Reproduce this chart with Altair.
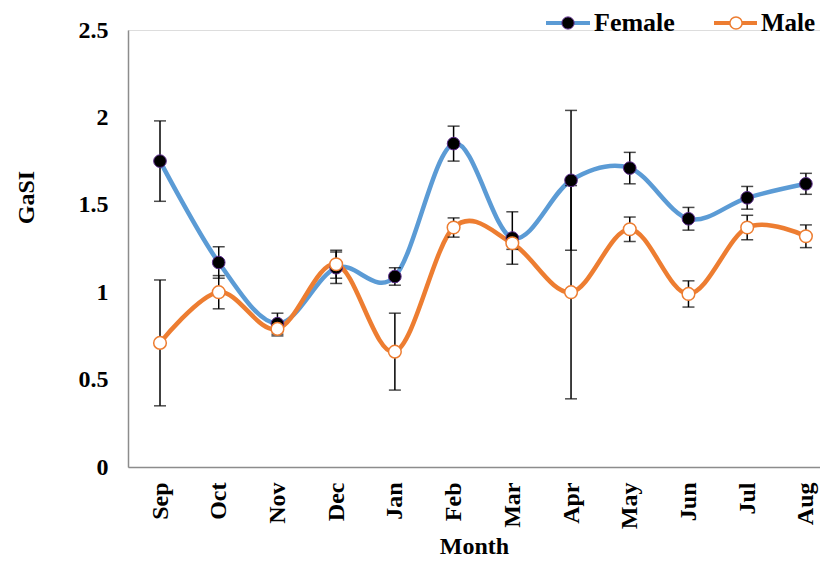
import altair as alt
import pandas as pd

months = ["Sep", "Oct", "Nov", "Dec", "Jan", "Feb", "Mar", "Apr", "May", "Jun", "Jul", "Aug"]
female = [1.75, 1.17, 0.82, 1.14, 1.09, 1.85, 1.31, 1.64, 1.71, 1.42, 1.54, 1.62]
female_err = [0.23, 0.09, 0.06, 0.09, 0.05, 0.10, 0.15, 0.40, 0.09, 0.065, 0.065, 0.06]
male = [0.71, 1.00, 0.79, 1.16, 0.66, 1.37, 1.28, 1.00, 1.36, 0.99, 1.37, 1.32]
male_err = [0.36, 0.095, 0.04, 0.08, 0.22, 0.055, 0.035, 0.61, 0.07, 0.075, 0.07, 0.065]

FONT = "Liberation Serif"
BLUE = "#5B9BD5"
ORANGE = "#ED7D31"

rows = []
for i, m in enumerate(months):
    rows.append({"idx": i, "month": m, "sex": "Female", "val": female[i],
                 "lo": female[i] - female_err[i], "hi": female[i] + female_err[i]})
for i, m in enumerate(months):
    rows.append({"idx": i, "month": m, "sex": "Male", "val": male[i],
                 "lo": male[i] - male_err[i], "hi": male[i] + male_err[i]})
df = pd.DataFrame(rows)

label_expr = "[" + ",".join("'" + m + "'" for m in months) + "][datum.value]"

x = alt.X("idx:Q",
          scale=alt.Scale(domain=[-0.545, 11.24], nice=False, zero=False),
          axis=alt.Axis(values=list(range(12)), labelExpr=label_expr, title="Month",
                        labelAngle=270, labelFont=FONT, labelFontSize=24, labelFontWeight="bold",
                        labelColor="black", labelPadding=15, ticks=False, grid=False,
                        domainColor="#8c8c8c", domainWidth=1.5,
                        titleFont=FONT, titleFontSize=24, titleFontWeight="bold",
                        titleColor="black", titlePadding=6))
y = alt.Y("val:Q",
          scale=alt.Scale(domain=[0, 2.5], nice=False),
          axis=alt.Axis(values=[0, 0.5, 1, 1.5, 2, 2.5], format="~g", title="GaSI",
                        labelFont=FONT, labelFontSize=24, labelFontWeight="bold",
                        labelColor="black", labelPadding=20, ticks=False, grid=False,
                        domainColor="#8c8c8c", domainWidth=1.5,
                        titleFont=FONT, titleFontSize=24, titleFontWeight="bold",
                        titleColor="black", titlePadding=40, titleY=167))

base = alt.Chart(df)

fline = base.transform_filter("datum.sex == 'Female'").mark_line(
    interpolate="cardinal", color=BLUE, strokeWidth=4.5).encode(x=x, y=y)
mline = base.transform_filter("datum.sex == 'Male'").mark_line(
    interpolate="cardinal", color=ORANGE, strokeWidth=4.5).encode(x=x, y=y)

err = base.mark_rule(color="black", strokeWidth=1.5).encode(
    x="idx:Q", y="lo:Q", y2="hi:Q")
cap_lo = base.mark_tick(color="black", thickness=1.5, size=12, orient="horizontal").encode(
    x="idx:Q", y="lo:Q")
cap_hi = base.mark_tick(color="black", thickness=1.5, size=12, orient="horizontal").encode(
    x="idx:Q", y="hi:Q")

fpts = base.transform_filter("datum.sex == 'Female'").mark_point(
    filled=False, fill="black", fillOpacity=1, stroke="#5a2a8a", strokeWidth=1,
    size=160, shape="circle", opacity=1).encode(x="idx:Q", y="val:Q")
mpts = base.transform_filter("datum.sex == 'Male'").mark_point(
    filled=False, fill="white", fillOpacity=1, stroke=ORANGE, strokeWidth=1.5,
    size=160, shape="circle", opacity=1).encode(x="idx:Q", y="val:Q")

leg_src = alt.Chart(pd.DataFrame({"k": [0]}))
leg_y = -7
f_rule = leg_src.mark_rule(color=BLUE, strokeWidth=4).encode(
    x=alt.value(418), x2=alt.value(462), y=alt.value(leg_y))
f_pt = leg_src.mark_point(filled=False, fill="black", fillOpacity=1, stroke="#5a2a8a",
                          strokeWidth=1, size=150, opacity=1).encode(
    x=alt.value(440), y=alt.value(leg_y))
f_txt = leg_src.mark_text(text="Female", font=FONT, fontSize=26, fontWeight="bold",
                          align="left", baseline="middle", color="black").encode(
    x=alt.value(466), y=alt.value(leg_y))
m_rule = leg_src.mark_rule(color=ORANGE, strokeWidth=4).encode(
    x=alt.value(586), x2=alt.value(629), y=alt.value(leg_y))
m_pt = leg_src.mark_point(filled=False, fill="white", fillOpacity=1, stroke=ORANGE,
                          strokeWidth=1.5, size=150, opacity=1).encode(
    x=alt.value(608), y=alt.value(leg_y))
m_txt = leg_src.mark_text(text="Male", font=FONT, fontSize=25, fontWeight="bold",
                          align="left", baseline="middle", color="black").encode(
    x=alt.value(633), y=alt.value(leg_y))

chart = alt.layer(fline, mline, err, cap_lo, cap_hi, fpts, mpts,
                  f_rule, f_pt, f_txt, m_rule, m_pt, m_txt).properties(
    width=692, height=437,
    autosize=alt.AutoSizeParams(type="none"),
    padding={"left": 120, "top": 22, "right": 0, "bottom": 92},
).configure_view(stroke=None).configure(background="white")

chart.save("out.html", embed_options={"renderer": "svg", "actions": False})
